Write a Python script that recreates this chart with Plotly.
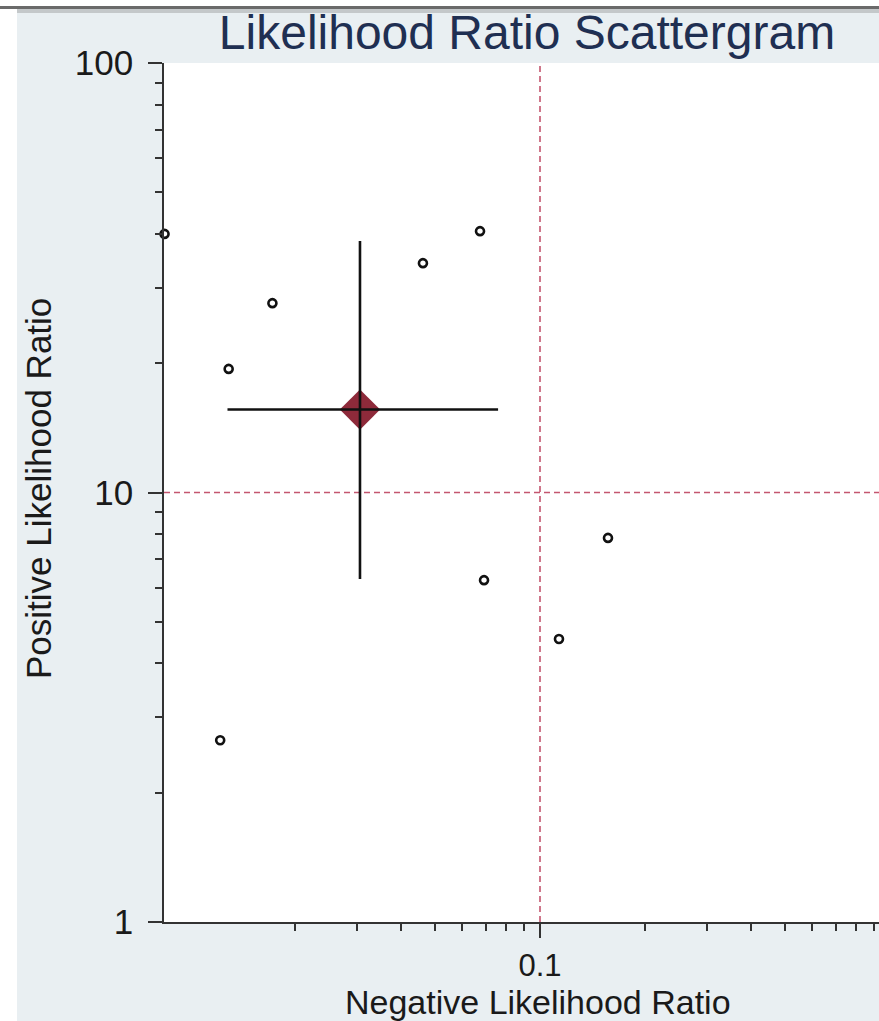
import math
import plotly.graph_objects as go

# ---- data ----
study_nlr = [0.00846, 0.0129, 0.0172, 0.0122, 0.0463, 0.0674, 0.0692, 0.1133, 0.1564]
study_plr = [40.0, 19.4, 27.6, 2.65, 34.2, 40.6, 6.25, 4.56, 7.84]

summary_nlr = [0.0306]
summary_plr = [15.6]
summary_nlr_lo = [0.0128]
summary_nlr_hi = [0.0759]
summary_plr_lo = [6.29]
summary_plr_hi = [38.5]

ref_nlr = 0.1
ref_plr = 10

x_range_vals = [0.00843, 0.93]
y_range_vals = [1, 100]

x_tickvals = [0.1]
x_ticktext = ["0.1"]
x_minor_vals = [0.02, 0.03, 0.04, 0.05, 0.06, 0.07, 0.08, 0.09,
                0.2, 0.3, 0.4, 0.5, 0.6, 0.7, 0.8, 0.9]
y_tickvals = [1, 10, 100]
y_ticktext = ["1", "10", "100"]
y_minor_vals = [2, 3, 4, 5, 6, 7, 8, 9, 20, 30, 40, 50, 60, 70, 80, 90]

FONT = "Liberation Sans, Arial, sans-serif"
BG = "#e9eff2"
AXIS = "#333333"
REFLINE = "#c4566f"

fig = go.Figure()

# study points
fig.add_trace(go.Scatter(
    x=study_nlr, y=study_plr, mode="markers",
    marker=dict(symbol="circle-open", size=8, color="#111111",
                line=dict(width=2.6, color="#111111")),
    cliponaxis=False, showlegend=False, hoverinfo="x+y",
))

# summary diamond
fig.add_trace(go.Scatter(
    x=summary_nlr, y=summary_plr, mode="markers",
    marker=dict(symbol="diamond", size=31, color="#8e2a3a",
                line=dict(width=0)),
    showlegend=False, hoverinfo="x+y",
))

# summary confidence crosshair (drawn on top of the diamond)
fig.add_trace(go.Scatter(
    x=summary_nlr, y=summary_plr, mode="markers",
    marker=dict(size=1, color="rgba(0,0,0,0)"),
    error_x=dict(type="data", symmetric=False,
                 array=[h - c for h, c in zip(summary_nlr_hi, summary_nlr)],
                 arrayminus=[c - l for c, l in zip(summary_nlr, summary_nlr_lo)],
                 color="#111111", thickness=2.6, width=0),
    error_y=dict(type="data", symmetric=False,
                 array=[h - c for h, c in zip(summary_plr_hi, summary_plr)],
                 arrayminus=[c - l for c, l in zip(summary_plr, summary_plr_lo)],
                 color="#111111", thickness=2.6, width=0),
    showlegend=False, hoverinfo="skip",
))

shapes = [
    # reference lines
    dict(type="line", xref="x", yref="paper", x0=ref_nlr, x1=ref_nlr, y0=0, y1=1,
         line=dict(color=REFLINE, width=1.6, dash="6px,4px"), layer="below"),
    dict(type="line", xref="paper", yref="y", x0=0, x1=1, y0=ref_plr, y1=ref_plr,
         line=dict(color=REFLINE, width=1.6, dash="6px,4px"), layer="below"),
    # screenshot frame: white left strip, white top strip and a shadow line
    dict(type="rect", xref="paper", yref="paper",
         x0=-164 / 715, x1=-147 / 715, y0=-0.2, y1=1.2,
         fillcolor="white", line=dict(width=0), layer="above"),
    dict(type="rect", xref="paper", yref="paper",
         x0=-0.3, x1=1.1, y0=(922 - 0) / 859 + 0.02, y1=(922 - 6) / 859,
         fillcolor="white", line=dict(width=0), layer="above"),
    dict(type="rect", xref="paper", yref="paper",
         x0=-0.3, x1=1.1, y0=(922 - 6) / 859, y1=(922 - 9) / 859,
         fillcolor="#6a6a6a", line=dict(width=0), layer="above"),
    dict(type="rect", xref="paper", yref="paper",
         x0=-147 / 715, x1=1.1, y0=(922 - 9) / 859, y1=(922 - 13) / 859,
         fillcolor="#c4c8ca", line=dict(width=0), layer="above"),
]

annotations = [
    dict(text="Positive Likelihood Ratio", xref="paper", yref="paper",
         x=(38 - 164) / 715, y=(922 - 489) / 859, textangle=-90,
         showarrow=False, xanchor="center", yanchor="middle",
         font=dict(family=FONT, size=35, color="#1a1a1a")),
    dict(text="Negative Likelihood Ratio", xref="paper", yref="paper",
         x=(538 - 164) / 715, y=(922 - 1002) / 859,
         showarrow=False, xanchor="center", yanchor="middle",
         font=dict(family=FONT, size=34, color="#1a1a1a")),
]

fig.update_layout(
    width=879, height=1021,
    margin=dict(l=164, r=0, t=63, b=99, pad=0),
    paper_bgcolor=BG, plot_bgcolor="white",
    title=dict(text="Likelihood Ratio Scattergram", xref="container", yref="container",
               x=527 / 879, y=1 - 32 / 1021, xanchor="center", yanchor="middle",
               font=dict(family=FONT, size=48, color="#1f2f52")),
    shapes=shapes, annotations=annotations,
    showlegend=False,
    xaxis=dict(
        type="log", range=[math.log10(v) for v in x_range_vals],
        showgrid=False, zeroline=False,
        showline=True, linecolor=AXIS, linewidth=1.5,
        tickmode="array", tickvals=x_tickvals, ticktext=x_ticktext,
        ticks="outside", ticklen=14, tickwidth=1.5, tickcolor=AXIS,
        tickfont=dict(family=FONT, size=31, color="#1a1a1a"),
        ticklabelstandoff=1,
        minor=dict(tickmode="array", tickvals=x_minor_vals, ticks="outside",
                   ticklen=7, tickwidth=1.5, tickcolor=AXIS, showgrid=False),
    ),
    yaxis=dict(
        type="log", range=[math.log10(v) for v in y_range_vals],
        showgrid=False, zeroline=False,
        showline=True, linecolor=AXIS, linewidth=1.5,
        tickmode="array", tickvals=y_tickvals, ticktext=y_ticktext,
        ticks="outside", ticklen=14, tickwidth=1.5, tickcolor=AXIS,
        tickfont=dict(family=FONT, size=35, color="#1a1a1a"),
        ticklabelstandoff=8,
        minor=dict(tickmode="array", tickvals=y_minor_vals, ticks="outside",
                   ticklen=7, tickwidth=1.5, tickcolor=AXIS, showgrid=False),
    ),
)

fig.write_html(
    "out.html",
    config={"displayModeBar": False},
    post_script=(
        "document.documentElement.style.margin='0';"
        "document.documentElement.style.background='" + BG + "';"
        "document.documentElement.style.overflow='hidden';"
        "document.body.style.margin='0';"
        "document.body.style.overflow='hidden';"
        "document.body.style.background='" + BG + "';"
    ),
)
